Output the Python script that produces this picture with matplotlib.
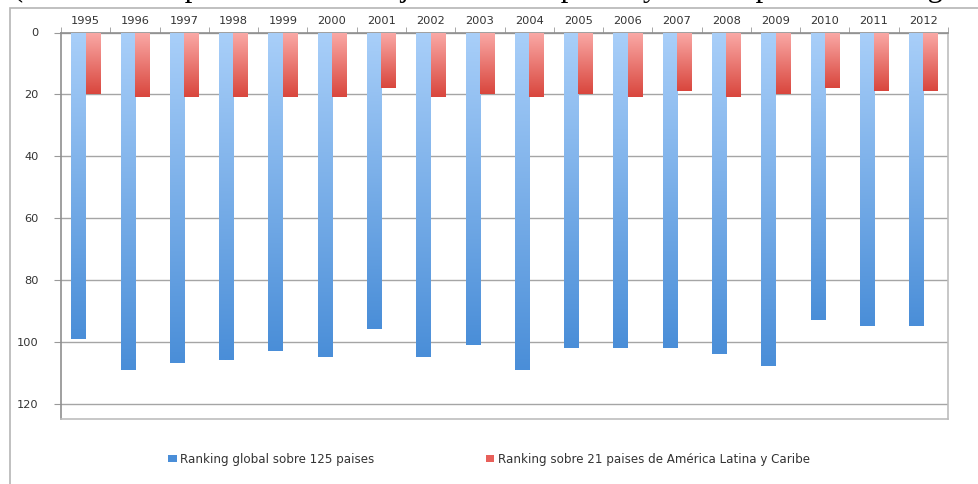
import numpy as np
import matplotlib
matplotlib.use('Agg')
import matplotlib.pyplot as plt
from matplotlib.patches import Patch, Rectangle
from matplotlib.colors import LinearSegmentedColormap

years = ['1995', '1996', '1997', '1998', '1999', '2000', '2001', '2002', '2003',
         '2004', '2005', '2006', '2007', '2008', '2009', '2010', '2011', '2012']
ranking_global = [99, 109, 107, 106, 103, 105, 96, 105, 101,
                  109, 102, 102, 102, 104, 108, 93, 95, 95]
ranking_latam = [20, 21, 21, 21, 21, 21, 18, 21, 20,
                 21, 20, 21, 19, 21, 20, 18, 19, 19]

label_global = 'Ranking global sobre 125 paises'
label_latam = 'Ranking sobre 21 paises de América Latina y Caribe'
title_text = '(Ecuador comparado con el conjunto de 125 países y con 21 países de la región)'

W, H = 979, 484
fig = plt.figure(figsize=(W / 100, H / 100), dpi=100)

# caption line above the chart, cut off by the top edge
fig.text(13 / W, 1 + 4 / H, title_text, va='baseline', ha='left',
         fontfamily='Liberation Serif', fontsize=22, color='black')

# outer chart border
fig.add_artist(Rectangle((10 / W, -0.05), 1.2, 1 - 8 / H + 0.05,
                         transform=fig.transFigure, fill=False,
                         edgecolor='#b5b5b5', linewidth=1.2))

left, right, top, bottom = 61, 948, 32.5, 419
ax = fig.add_axes([left / W, 1 - bottom / H, (right - left) / W, (bottom - top) / H])

x = np.arange(len(years))
width = 0.29

blue_cmap = LinearSegmentedColormap.from_list('b', ['#a9cff9', '#4a8ed8'])
red_cmap = LinearSegmentedColormap.from_list('r', ['#faaaa7', '#d9463d'])

b1 = ax.bar(x - width / 2, ranking_global, width=width, color='#7fb0ea', zorder=2)
b2 = ax.bar(x + width / 2, ranking_latam, width=width, color='#ec7f78', zorder=2)

# vertical gradient fill on every bar
grad = np.linspace(0, 1, 256).reshape(-1, 1)
for bars, cmap in ((b1, blue_cmap), (b2, red_cmap)):
    for rect in bars:
        x0 = rect.get_x()
        w = rect.get_width()
        h = rect.get_height()
        ax.imshow(grad, cmap=cmap, aspect='auto', origin='upper',
                  extent=(x0, x0 + w, h, 0), zorder=3)

ax.set_aspect('auto')
ax.set_xlim(-0.5, len(years) - 0.5)
ax.set_ylim(125, 0)

fs = 8.2
ax.xaxis.tick_top()
ax.set_xticks(x)
ax.set_xticklabels(years, fontsize=fs, color='#333333')
ax.set_xticks(np.arange(len(years) + 1) - 0.5, minor=True)
ax.tick_params(axis='x', which='major', length=0, pad=5)
ax.tick_params(axis='x', which='minor', length=4, color='#999999', top=True, bottom=False)

ax.set_yticks(np.arange(0, 121, 20))
ax.set_yticklabels([str(v) for v in range(0, 121, 20)], fontsize=fs, color='#333333')
ax.tick_params(axis='y', length=5, color='#999999', pad=11)

ax.grid(axis='y', color='#a5a5a5', linewidth=1.0, zorder=1)
ax.set_axisbelow(True)

for side in ('left', 'top'):
    ax.spines[side].set_color('#8f8f8f')
    ax.spines[side].set_linewidth(1.2)
for side in ('right', 'bottom'):
    ax.spines[side].set_color('#bdbdbd')
    ax.spines[side].set_linewidth(1.2)

handles = [Patch(facecolor='#4a8ed8', edgecolor='none', label=label_global),
           Patch(facecolor='#e8605a', edgecolor='none', label=label_latam)]
fig.legend(handles=handles, loc='center', bbox_to_anchor=(489 / W, 1 - 459 / H),
           ncol=2, frameon=False, handlelength=0.7, handleheight=0.5,
           handletextpad=0.3, columnspacing=9.3,
           prop={'size': 8.6}, labelcolor='#333333')

fig.savefig('out.png', dpi=100)
